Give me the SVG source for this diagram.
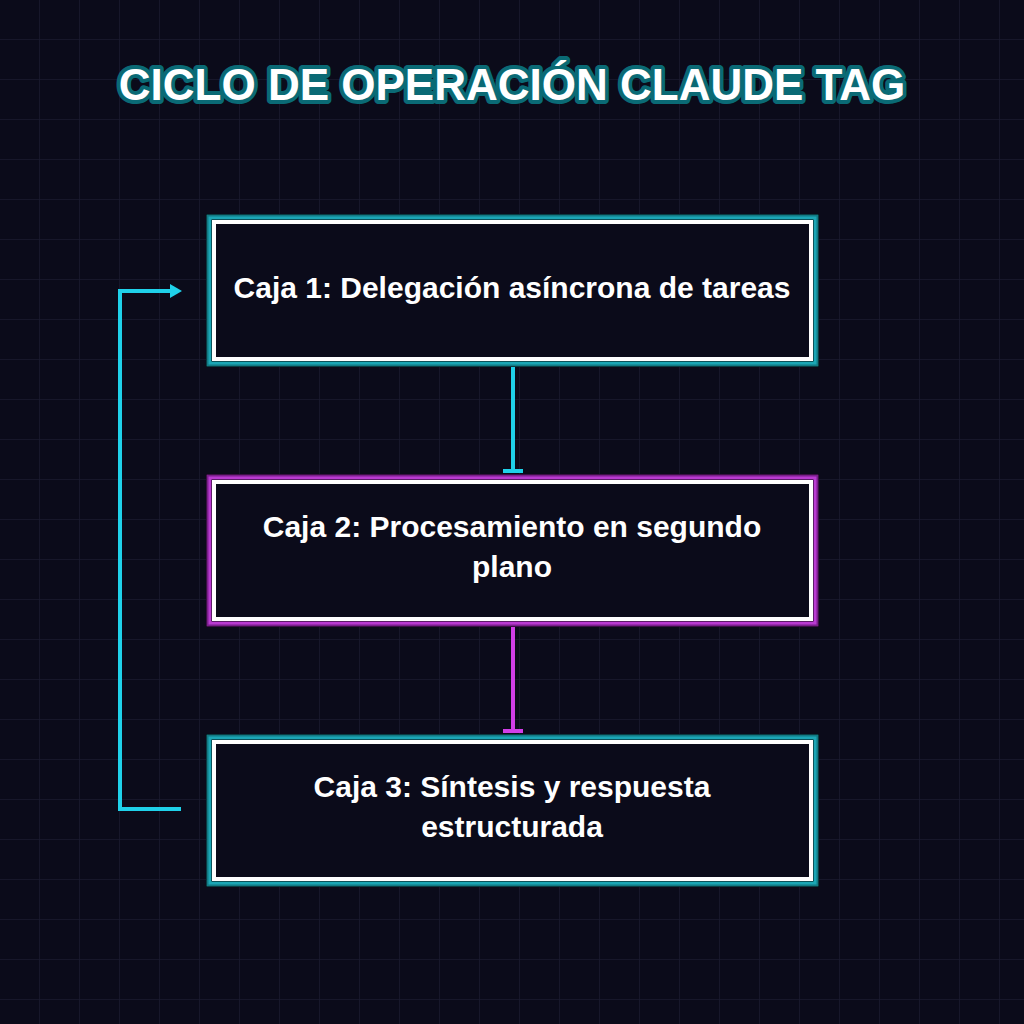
<svg xmlns="http://www.w3.org/2000/svg" width="1024" height="1024" viewBox="0 0 1024 1024">
<defs>
<pattern id="grid" width="40" height="40" patternUnits="userSpaceOnUse"><path d="M40 0V40M0 40H40" fill="none" stroke="#1a1a30" stroke-width="1.5"/></pattern>
<marker id="ah" markerWidth="12" markerHeight="14" refX="2" refY="7" orient="auto" markerUnits="userSpaceOnUse"><path d="M0,0 L12,7 L0,14 Z" fill="#1fd1ea"/></marker>
</defs>
<style>
.lbl{font-family:"Liberation Sans",Arial,sans-serif;font-weight:bold;font-size:30px;fill:#fff;text-anchor:middle}
.inner{fill:#0b0b1a;stroke:#fff;stroke-width:4}
</style>
<rect width="1024" height="1024" fill="#0b0b1a"/>
<rect width="1024" height="1024" fill="url(#grid)"/>
<text x="512" y="100" text-anchor="middle" font-family="Liberation Sans,Arial,sans-serif" font-weight="bold" font-size="44" fill="#fff" stroke="#0a6a75" stroke-width="8" stroke-linejoin="round" paint-order="stroke">CICLO DE OPERACIÓN CLAUDE TAG</text>
<g id="connectors" fill="none" stroke-width="4">
<path d="M513 360V471M503 471H523" stroke="#1fd1ea"/>
<path d="M513 620V731M503 731H523" stroke="#d23ee8"/>
<path d="M181 809H120V291H172" stroke="#1fd1ea" marker-end="url(#ah)"/>
</g>
<g id="box1">
<rect x="206" y="214" width="613" height="153" fill="#000"/>
<rect x="208" y="216" width="609" height="149" fill="none" stroke="#127a85" stroke-width="3"/>
<rect x="210" y="218" width="605" height="145" fill="none" stroke="#1ba6b5" stroke-width="3"/>
<rect x="214" y="222" width="597" height="137" class="inner"/>
<text x="512" y="298" class="lbl">Caja 1: Delegación asíncrona de tareas</text>
</g>
<g id="box2">
<rect x="206" y="474" width="613" height="153" fill="#000"/>
<rect x="208" y="476" width="609" height="149" fill="none" stroke="#7a1f8c" stroke-width="3"/>
<rect x="210" y="478" width="605" height="145" fill="none" stroke="#b93ad1" stroke-width="3"/>
<rect x="214" y="482" width="597" height="137" class="inner"/>
<text x="512" y="537" class="lbl">Caja 2: Procesamiento en segundo</text>
<text x="512" y="577" class="lbl">plano</text>
</g>
<g id="box3">
<rect x="206" y="734" width="613" height="153" fill="#000"/>
<rect x="208" y="736" width="609" height="149" fill="none" stroke="#127a85" stroke-width="3"/>
<rect x="210" y="738" width="605" height="145" fill="none" stroke="#1ba6b5" stroke-width="3"/>
<rect x="214" y="742" width="597" height="137" class="inner"/>
<text x="512" y="797" class="lbl">Caja 3: Síntesis y respuesta</text>
<text x="512" y="837" class="lbl">estructurada</text>
</g>
</svg>
